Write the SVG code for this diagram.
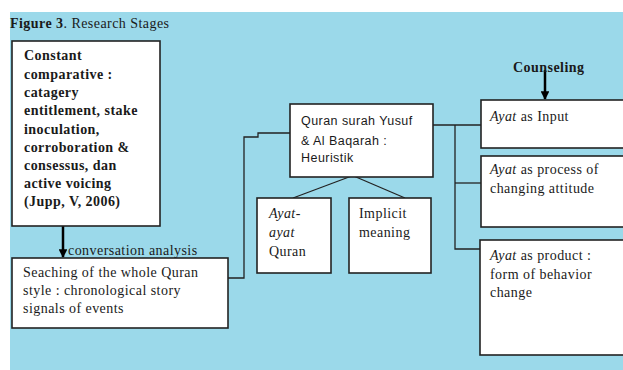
<svg xmlns="http://www.w3.org/2000/svg" width="623" height="370" viewBox="0 0 623 370">
<defs>
<style>
.box{fill:#fff;stroke:#222;stroke-width:1.6}
.t{font-family:"Liberation Serif",serif;font-size:14px;letter-spacing:0.45px;fill:#1a1a1a}
.b{font-weight:bold}
.s{font-family:"Liberation Sans",sans-serif;font-size:12.5px;letter-spacing:0.45px;fill:#1a1a1a}
.ln{fill:none;stroke:#222;stroke-width:1.3}
.ar{fill:none;stroke:#000;stroke-width:2.5}
</style>
<marker id="ah" viewBox="0 0 10 10" refX="9" refY="5" markerWidth="3.5" markerHeight="3.5" orient="auto" markerUnits="strokeWidth">
<path d="M0,0 L10,5 L0,10 z" fill="#000"/>
</marker>
</defs>
<rect x="10" y="12" width="613" height="358" fill="#9bd9ea"/>
<text x="10" y="28" class="t"><tspan class="b">Figure 3</tspan>. Research Stages</text>

<g id="connectors">
<line class="ar" x1="63" y1="226" x2="63" y2="257" marker-end="url(#ah)"/>
<line class="ar" x1="545" y1="70" x2="545" y2="99" marker-end="url(#ah)"/>
<polyline class="ln" points="228,278 244,278 244,137 258,137 258,133 290,133"/>
<line class="ln" x1="293" y1="198" x2="357" y2="174"/>
<line class="ln" x1="405" y1="198" x2="349" y2="174"/>
<polyline class="ln" points="433,125 481,125"/>
<polyline class="ln" points="455,125 455,249 480,249"/>
<line class="ln" x1="455" y1="183" x2="481" y2="183"/>
</g>

<g id="n1">
<rect class="box" x="12" y="41" width="148" height="185"/>
<text class="t b" x="24"><tspan x="24" y="60">Constant</tspan><tspan x="24" y="79">comparative :</tspan><tspan x="24" y="97">catagery</tspan><tspan x="24" y="115">entitlement, stake</tspan><tspan x="24" y="134">inoculation,</tspan><tspan x="24" y="152">corroboration &amp;</tspan><tspan x="24" y="170">consessus, dan</tspan><tspan x="24" y="188">active voicing</tspan><tspan x="24" y="206">(Jupp, V, 2006)</tspan></text>
</g>

<g id="lbl">
<text class="t" x="68" y="255">conversation analysis</text>
</g>

<g id="n2">
<rect class="box" x="12" y="258" width="216" height="70"/>
<text class="t"><tspan x="23" y="277">Seaching of the whole Quran</tspan><tspan x="23" y="295">style : chronological story</tspan><tspan x="23" y="313">signals of events</tspan></text>
</g>

<g id="n3">
<rect class="box" x="290" y="104" width="143" height="73"/>
<text class="s"><tspan x="301" y="125">Quran surah  Yusuf</tspan><tspan x="301" y="145">&amp; Al Baqarah :</tspan><tspan x="301" y="162">Heuristik</tspan></text>
</g>

<g id="n4">
<rect class="box" x="257" y="198" width="74" height="75"/>
<text class="t"><tspan x="269" y="218" font-style="italic">Ayat-</tspan><tspan x="269" y="237" font-style="italic">ayat</tspan><tspan x="269" y="256">Quran</tspan></text>
</g>

<g id="n5">
<rect class="box" x="349" y="198" width="82" height="75"/>
<text class="t"><tspan x="359" y="218">Implicit</tspan><tspan x="359" y="237">meaning</tspan></text>
</g>

<g id="n6">
<text class="t b" x="513" y="72">Counseling</text>
</g>

<g id="n7">
<rect class="box" x="481" y="100" width="150" height="48"/>
<text class="t" x="490" y="121"><tspan font-style="italic">Ayat</tspan> as  Input</text>
</g>

<g id="n8">
<rect class="box" x="481" y="156" width="150" height="71"/>
<text class="t"><tspan x="490" y="174"><tspan font-style="italic">Ayat</tspan> as process of</tspan><tspan x="490" y="193">changing attitude</tspan></text>
</g>

<g id="n9">
<rect class="box" x="480" y="240" width="150" height="115"/>
<text class="t"><tspan x="490" y="260"><tspan font-style="italic">Ayat</tspan> as  product :</tspan><tspan x="490" y="279">form of behavior</tspan><tspan x="490" y="297">change</tspan></text>
</g>
</svg>
